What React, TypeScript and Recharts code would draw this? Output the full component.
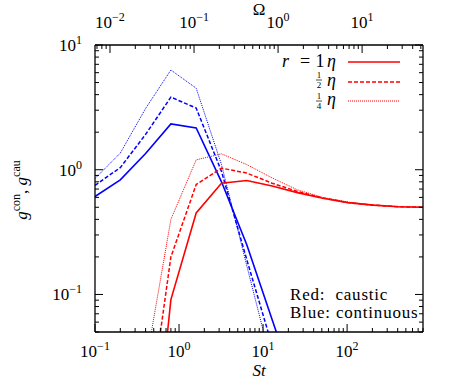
import { LineChart, Line, XAxis, YAxis } from "recharts";

// Stokes numbers of the simulation runs
const stValues = [0.1, 0.2, 0.4, 0.8, 1.6, 3.2, 6.4, 12.8, 25.6, 51.2, 102.4, 204.8, 409.6, 819.2];

// continuous contribution (blue)
const conR1 = [0.61, 0.83, 1.35, 2.33, 2.16, 0.8, 0.25, 0.063, 0.016, null, null, null, null, null];
const conRHalf = [0.75, 1.04, 1.92, 3.82, 3.12, 0.97, 0.19, 0.039, 0.008, null, null, null, null, null];
const conRQuarter = [0.85, 1.36, 3.1, 6.3, 4.5, 1.1, 0.17, 0.027, 0.004, null, null, null, null, null];

// caustic contribution (red)
const cauR1 = [null, null, 0.001, 0.091, 0.45, 0.78, 0.82, 0.74, 0.655, 0.59, 0.545, 0.52, 0.505, 0.5];
const cauRHalf = [null, null, 0.007, 0.2, 0.76, 1.03, 0.94, 0.78, 0.67, 0.595, 0.545, 0.52, 0.505, 0.5];
const cauRQuarter = [null, null, 0.027, 0.4, 1.2, 1.34, 1.1, 0.86, 0.69, 0.6, 0.55, 0.52, 0.505, 0.5];

const stMajor = [0.1, 1, 10, 100];
const omegaMajor = [0.01, 0.1, 1, 10];
const gMajor = [0.1, 1, 10];

// Omega = k * St
const OMEGA_K = 0.0663;
const ST_DOMAIN: [number, number] = [0.1, 800];
const OMEGA_DOMAIN: [number, number] = [ST_DOMAIN[0] * OMEGA_K, ST_DOMAIN[1] * OMEGA_K];
const G_DOMAIN: [number, number] = [0.05, 10];

const minors = (base: number, upto = 9) =>
  [2, 3, 4, 5, 6, 7, 8, 9].filter((m) => m <= upto).map((m) => m * base);

const stTicks = [...stMajor, ...minors(0.1), ...minors(1), ...minors(10), ...minors(100, 8)];
const omegaTicks = [0.007, 0.008, 0.009, ...omegaMajor, ...minors(0.01), ...minors(0.1), ...minors(1), ...minors(10, 5)];
const gTicks = [...gMajor, 0.05, 0.06, 0.07, 0.08, 0.09, ...minors(0.1), ...minors(1)];

const rows = stValues.map((st, i) => ({
  st,
  omega: st * OMEGA_K,
  conR1: conR1[i],
  conRHalf: conRHalf[i],
  conRQuarter: conRQuarter[i],
  cauR1: cauR1[i],
  cauRHalf: cauRHalf[i],
  cauRQuarter: cauRQuarter[i],
}));

const FONT = "'Liberation Serif', 'DejaVu Serif', serif";
const BLUE = "#0000ff";
const RED = "#ff0000";

const isMajor = (v: number, majors: number[]) => majors.some((m) => Math.abs(v / m - 1) < 1e-6);

function Pow10({ v, ...rest }: any) {
  const e = Math.round(Math.log10(v));
  return (
    <text fontFamily={FONT} fontSize={17} fill="#000" {...rest}>
      10
      <tspan dy={-7} fontSize={12}>
        {e < 0 ? `\u2212${-e}` : e}
      </tspan>
    </text>
  );
}

function AxisTick(props: any) {
  const { x, y, payload, side, majors, labels } = props;
  const v = payload.value;
  const major = isMajor(v, majors);
  const len = major ? 8 : 4;
  let line;
  let label = null;
  if (side === "bottom") {
    line = <line x1={x} y1={y} x2={x} y2={y - len} stroke="#000" />;
    if (major && labels) label = <Pow10 v={v} x={x} y={y + 25} textAnchor="middle" />;
  } else if (side === "top") {
    line = <line x1={x} y1={y} x2={x} y2={y + len} stroke="#000" />;
    if (major && labels) label = <Pow10 v={v} x={x} y={y - 17} textAnchor="middle" />;
  } else if (side === "left") {
    line = <line x1={x} y1={y} x2={x + len} y2={y} stroke="#000" />;
    if (major && labels) label = <Pow10 v={v} x={x - 13} y={y + 6} textAnchor="end" />;
  } else {
    line = <line x1={x} y1={y} x2={x - len} y2={y} stroke="#000" />;
  }
  return (
    <g>
      {line}
      {label}
    </g>
  );
}

const axisLine = { stroke: "#000", strokeWidth: 1.3 };

function Overlay() {
  const t = { fontFamily: FONT, fill: "#000" };
  return (
    <svg
      width={460}
      height={381}
      style={{ position: "absolute", left: 0, top: 0, pointerEvents: "none" }}
    >
      {/* axis titles */}
      <text {...t} x={259} y={15} fontSize={17} textAnchor="middle">
        Ω
      </text>
      <text {...t} x={259} y={376} fontSize={17} textAnchor="middle" fontStyle="italic">
        St
      </text>
      <text {...t} transform="translate(27,190) rotate(-90)" fontSize={17} textAnchor="middle">
        <tspan fontStyle="italic">g</tspan>
        <tspan dy={-7} fontSize={12}>con</tspan>
        <tspan dy={7}>, </tspan>
        <tspan fontStyle="italic">g</tspan>
        <tspan dy={-7} fontSize={12}>cau</tspan>
      </text>

      {/* legend */}
      <text {...t} x={282} y={67} fontSize={18} fontStyle="italic">r</text>
      <text {...t} x={305} y={67} fontSize={18} textAnchor="middle">=</text>
      <text {...t} x={320} y={67} fontSize={18} textAnchor="middle">1</text>
      <text {...t} x={336} y={67} fontSize={18} textAnchor="end" fontStyle="italic">η</text>
      <line x1={348} y1={62} x2={400} y2={62} stroke={RED} strokeWidth={1.5} />

      <text {...t} x={319} y={78} fontSize={9} textAnchor="middle">1</text>
      <line x1={316} y1={80} x2={322} y2={80} stroke="#000" strokeWidth={0.7} />
      <text {...t} x={319} y={88} fontSize={9} textAnchor="middle">2</text>
      <text {...t} x={336} y={86} fontSize={18} textAnchor="end" fontStyle="italic">η</text>
      <line x1={348} y1={82} x2={400} y2={82} stroke={RED} strokeWidth={1.5} strokeDasharray="4 2" />

      <text {...t} x={319} y={99} fontSize={9} textAnchor="middle">1</text>
      <line x1={316} y1={101} x2={322} y2={101} stroke="#000" strokeWidth={0.7} />
      <text {...t} x={319} y={109} fontSize={9} textAnchor="middle">4</text>
      <text {...t} x={336} y={105} fontSize={18} textAnchor="end" fontStyle="italic">η</text>
      <line x1={348} y1={101} x2={400} y2={101} stroke={RED} strokeWidth={1} strokeDasharray="1 1" />

      {/* colour key */}
      <text {...t} x={290} y={300} fontSize={17} letterSpacing={0.8} style={{ whiteSpace: "pre" }}>
        {"Red:  caustic"}
      </text>
      <text {...t} x={290} y={318} fontSize={17} letterSpacing={0.8} style={{ whiteSpace: "pre" }}>
        {"Blue: continuous"}
      </text>
    </svg>
  );
}

export default function App() {
  return (
    <div style={{ position: "absolute", left: 0, top: 0, width: 460, height: 381, background: "#fff" }}>
      <LineChart width={460} height={381} data={rows} margin={{ top: 0, right: 0, bottom: 0, left: 0 }}>
        <XAxis
          xAxisId="st"
          dataKey="st"
          type="number"
          scale="log"
          domain={ST_DOMAIN}
          allowDataOverflow
          ticks={stTicks}
          interval={0}
          tickSize={0}
          tickMargin={0}
          tickLine={false}
          axisLine={axisLine}
          height={49}
          orientation="bottom"
          tick={<AxisTick side="bottom" majors={stMajor} labels />}
        />
        <XAxis
          xAxisId="omega"
          dataKey="omega"
          type="number"
          scale="log"
          domain={OMEGA_DOMAIN}
          allowDataOverflow
          ticks={omegaTicks}
          interval={0}
          tickSize={0}
          tickMargin={0}
          tickLine={false}
          axisLine={axisLine}
          height={45}
          orientation="top"
          tick={<AxisTick side="top" majors={omegaMajor} labels />}
        />
        <YAxis
          yAxisId="g"
          type="number"
          scale="log"
          domain={G_DOMAIN}
          allowDataOverflow
          ticks={gTicks}
          interval={0}
          tickSize={0}
          tickMargin={0}
          tickLine={false}
          axisLine={axisLine}
          width={95}
          orientation="left"
          tick={<AxisTick side="left" majors={gMajor} labels />}
        />
        <YAxis
          yAxisId="gr"
          type="number"
          scale="log"
          domain={G_DOMAIN}
          allowDataOverflow
          ticks={gTicks}
          interval={0}
          tickSize={0}
          tickMargin={0}
          tickLine={false}
          axisLine={axisLine}
          width={37}
          orientation="right"
          tick={<AxisTick side="right" majors={gMajor} />}
        />

        {/* invisible series that ties the Ω axis to the data */}
        <Line xAxisId="omega" yAxisId="gr" dataKey="cauR1" stroke="none" dot={false} legendType="none" isAnimationActive={false} />

        <Line xAxisId="st" yAxisId="g" dataKey="conR1" stroke={BLUE} strokeWidth={1.6} dot={false} isAnimationActive={false} />
        <Line xAxisId="st" yAxisId="g" dataKey="conRHalf" stroke={BLUE} strokeWidth={1.5} strokeDasharray="4 2" dot={false} isAnimationActive={false} />
        <Line xAxisId="st" yAxisId="g" dataKey="conRQuarter" stroke={BLUE} strokeWidth={1} strokeDasharray="1 1" dot={false} isAnimationActive={false} />
        <Line xAxisId="st" yAxisId="g" dataKey="cauR1" stroke={RED} strokeWidth={1.6} dot={false} isAnimationActive={false} />
        <Line xAxisId="st" yAxisId="g" dataKey="cauRHalf" stroke={RED} strokeWidth={1.5} strokeDasharray="4 2" dot={false} isAnimationActive={false} />
        <Line xAxisId="st" yAxisId="g" dataKey="cauRQuarter" stroke={RED} strokeWidth={1} strokeDasharray="1 1" dot={false} isAnimationActive={false} />
      </LineChart>
      <Overlay />
    </div>
  );
}
